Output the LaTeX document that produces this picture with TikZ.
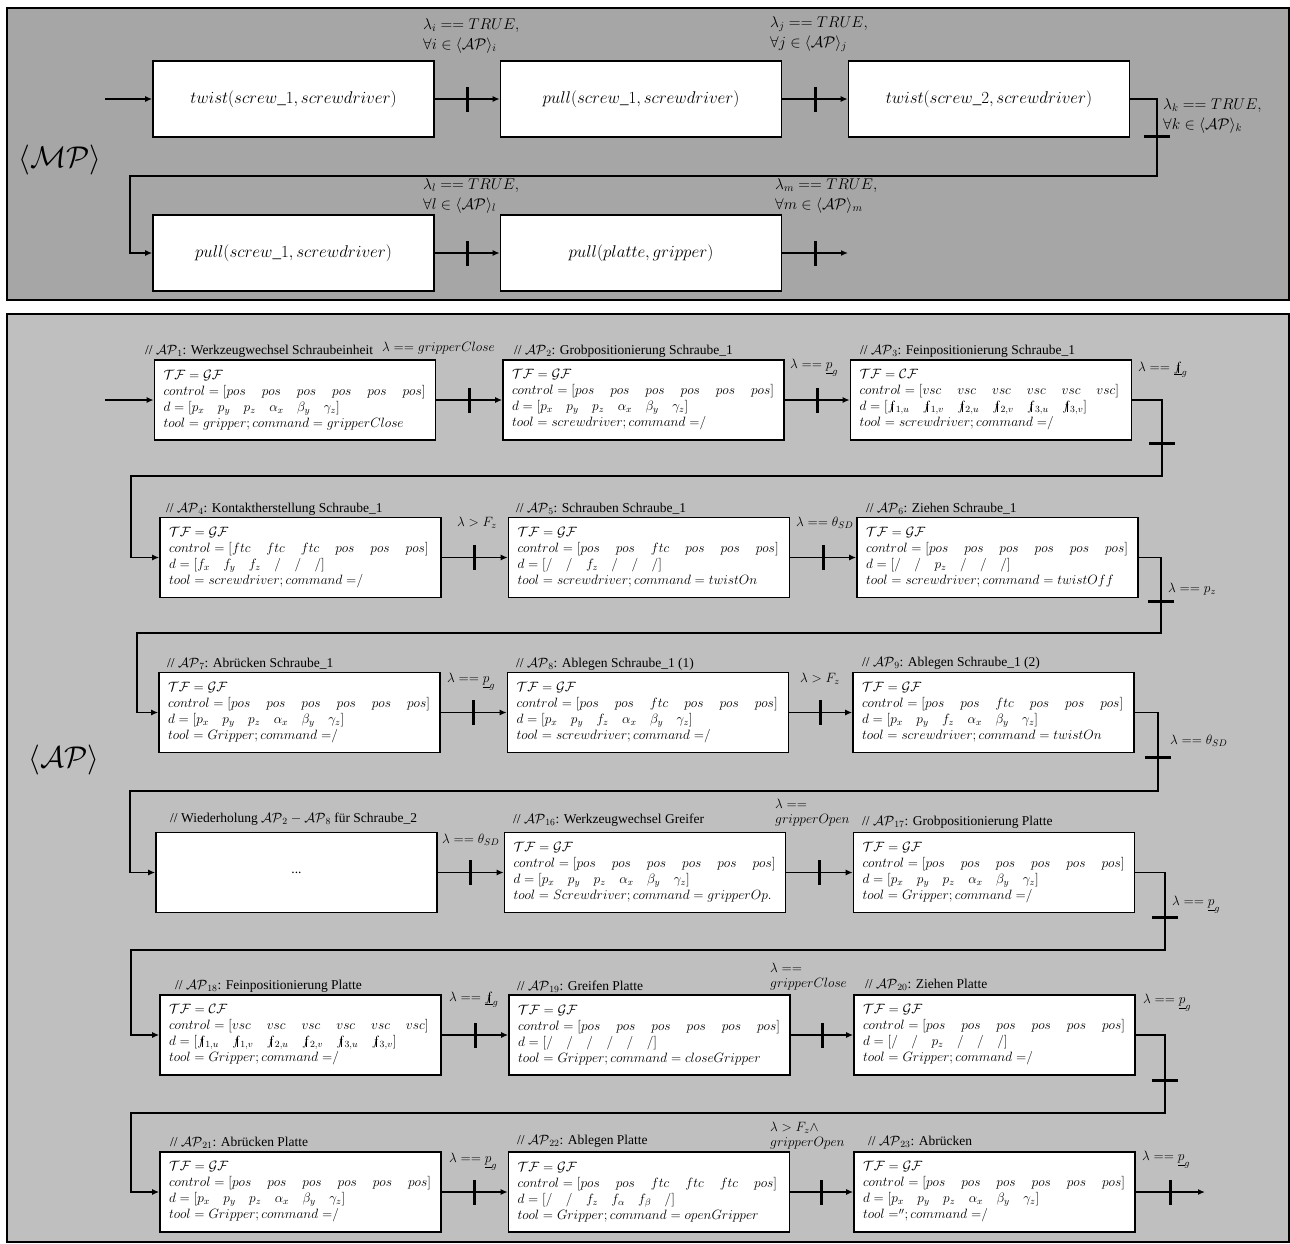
\RequirePackage{fix-cm}
\documentclass[tikz,border=0pt]{standalone}
\usepackage{amsmath,amssymb}
\usepackage{fontspec}
\setmainfont{Liberation Serif}
\usetikzlibrary{arrows.meta}
\newcommand\nf{\mathord{\ooalign{$f$\cr\hidewidth\kern0.12em\rule[-0.15ex]{0.07em}{1.55ex}\hidewidth\cr}}}
\newcommand\cs{\hspace{16pt}}
\newcommand\posrow{pos\cs pos\cs pos\cs pos\cs pos\cs pos}
\newcommand\pvec{p_x\quad p_y\quad p_z\quad \alpha_x\quad \beta_y\quad \gamma_z}
\newcommand\fvec{\nf_{1,u}\quad \nf_{1,v}\quad \nf_{2,u}\quad \nf_{2,v}\quad \nf_{3,u}\quad \nf_{3,v}}
\newcommand\cnone{command\;{=}/}
\newcommand\AP{\mathcal{AP}}
\begin{document}
\begin{tikzpicture}[x=1pt,y=-1pt,
  panel/.style={draw=black, line width=1.6pt},
  mbox/.style={draw, fill=white, line width=1.6pt, minimum width=281pt, minimum height=76pt, inner sep=0pt, font=\fontsize{17}{20}\selectfont},
  apbox/.style={draw, fill=white, line width=1.6pt, text width=263pt, inner xsep=9pt, inner ysep=0pt, minimum height=80pt, align=left, font=\fontsize{13.5}{16}\selectfont},
  ttl/.style={anchor=west, inner sep=0pt, font=\fontsize{13.5}{15}\selectfont},
  lab/.style={anchor=west, inner sep=0pt, align=left, font=\fontsize{13.5}{15}\selectfont},
  tlab/.style={anchor=west, inner sep=0pt, align=left, font=\fontsize{15.5}{20}\selectfont},
  conn/.style={line width=1.6pt, -{Latex[length=7pt,width=6pt]}},
  tickv/.style={fill=black, draw=none, inner sep=0pt, minimum width=3pt, minimum height=25pt},
  tickh/.style={fill=black, draw=none, inner sep=0pt, minimum width=26pt, minimum height=3pt},
  big/.style={inner sep=0pt, font=\fontsize{30}{34}\selectfont}
]
\useasboundingbox (0,0) rectangle (1290,1243);
% panels
\draw[panel, fill=black!35] (7,8) rectangle (1289,300);
\draw[panel, fill=black!25] (7,314) rectangle (1289,1242);

% ---------- MP panel ----------
\node[big] (mp) at (60,160) {$\langle\mathcal{MP}\rangle$};
\node[mbox] (m1) at (293.5,99) {$twist(screw\_1, screwdriver)$};
\node[mbox] (m2) at (641,99) {$pull(screw\_1, screwdriver)$};
\node[mbox] (m3) at (989,99) {$twist(screw\_2, screwdriver)$};
\node[mbox] (m4) at (293.5,253) {$pull(screw\_1, screwdriver)$};
\node[mbox] (m5) at (641,253) {$pull(platte, gripper)$};
\coordinate (min) at (105,99);
\coordinate (mout) at (848,253);
\draw[conn] (min) -- (m1.west);
\draw[conn] (m1.east) -- node[tickv]{} (m2.west);
\draw[conn] (m2.east) -- node[tickv]{} (m3.west);
\draw[conn] (m3.east) -- (1157,99) -- (1157,176) -- (130,176) -- (130,253) -- (m4.west);
\node[tickh] at (1157,136) {};
\draw[conn] (m4.east) -- node[tickv]{} (m5.west);
\draw[conn] (m5.east) -- node[tickv]{} (mout);
\node[tlab] (li) at (423,36) {$\lambda_i == TRUE,$\\$\forall i \in \langle\AP\rangle_i$};
\node[tlab] (lj) at (770,34) {$\lambda_j == TRUE,$\\$\forall j \in \langle\AP\rangle_j$};
\node[tlab] (lk) at (1163,116) {$\lambda_k == TRUE,$\\$\forall k \in \langle\AP\rangle_k$};
\node[tlab] (ll) at (423,196) {$\lambda_l == TRUE,$\\$\forall l \in \langle\AP\rangle_l$};
\node[tlab] (lm) at (775,196) {$\lambda_m == TRUE,$\\$\forall m \in \langle\AP\rangle_m$};

% ---------- AP panel ----------
\node[big] (ap) at (64,760) {$\langle\AP\rangle$};

% row 1
\node[apbox] (a1) at (295,400) {$\mathcal{TF} = \mathcal{GF}$\\$control = [\posrow]$\\$d = [\pvec]$\\$tool = gripper; command = gripperClose$};
\node[apbox] (a2) at (643.5,400) {$\mathcal{TF} = \mathcal{GF}$\\$control = [\posrow]$\\$d = [\pvec]$\\$tool = screwdriver; \cnone$};
\node[apbox] (a3) at (991,400) {$\mathcal{TF} = \mathcal{CF}$\\$control = [vsc\cs vsc\cs vsc\cs vsc\cs vsc\cs vsc]$\\$d = [\fvec]$\\$tool = screwdriver; \cnone$};
\node[ttl] (t1) at (145,351) {// $\AP_1$: Werkzeugwechsel Schraubeinheit};
\node[ttl] (t2) at (514,351) {// $\AP_2$: Grobpositionierung Schraube\_1};
\node[ttl] (t3) at (860,351) {// $\AP_3$: Feinpositionierung Schraube\_1};
\node[lab] (l1) at (382,348) {$\lambda == gripperClose$};
\node[lab] (l2) at (790,368) {$\lambda == \underline{p}_g$};
\node[lab] (l3) at (1138,370) {$\lambda == \underline{\nf}_g$};

% row 2
\node[apbox] (a4) at (300.5,557.5) {$\mathcal{TF} = \mathcal{GF}$\\$control = [ftc\cs ftc\cs ftc\cs pos\cs pos\cs pos]$\\$d = [f_x\quad f_y\quad f_z\quad /\quad /\quad /]$\\$tool = screwdriver; \cnone$};
\node[apbox] (a5) at (649,557.5) {$\mathcal{TF} = \mathcal{GF}$\\$control = [pos\cs pos\cs ftc\cs pos\cs pos\cs pos]$\\$d = [/\quad /\quad f_z\quad /\quad /\quad /]$\\$tool = screwdriver; command = twistOn$};
\node[apbox] (a6) at (997.5,557.5) {$\mathcal{TF} = \mathcal{GF}$\\$control = [\posrow]$\\$d = [/\quad /\quad p_z\quad /\quad /\quad /]$\\$tool = screwdriver; command = twistOff$};
\node[ttl] (t4) at (166,509) {// $\AP_4$: Kontaktherstellung Schraube\_1};
\node[ttl] (t5) at (516,509) {// $\AP_5$: Schrauben Schraube\_1};
\node[ttl] (t6) at (866,509) {// $\AP_6$: Ziehen Schraube\_1};
\node[lab] (l4) at (457,523) {$\lambda > F_z$};
\node[lab] (l5) at (796,523) {$\lambda == \theta_{SD}$};
\node[lab] (l6) at (1168,589) {$\lambda == p_z$};

% row 3
\node[apbox] (a7) at (299.5,712.5) {$\mathcal{TF} = \mathcal{GF}$\\$control = [\posrow]$\\$d = [\pvec]$\\$tool = Gripper; \cnone$};
\node[apbox] (a8) at (648,712.5) {$\mathcal{TF} = \mathcal{GF}$\\$control = [pos\cs pos\cs ftc\cs pos\cs pos\cs pos]$\\$d = [p_x\quad p_y\quad f_z\quad \alpha_x\quad \beta_y\quad \gamma_z]$\\$tool = screwdriver; \cnone$};
\node[apbox] (a9) at (993.5,712.5) {$\mathcal{TF} = \mathcal{GF}$\\$control = [pos\cs pos\cs ftc\cs pos\cs pos\cs pos]$\\$d = [p_x\quad p_y\quad f_z\quad \alpha_x\quad \beta_y\quad \gamma_z]$\\$tool = screwdriver; command = twistOn$};
\node[ttl] (t7) at (167,664) {// $\AP_7$: Abrücken Schraube\_1};
\node[ttl] (t8) at (516,664) {// $\AP_8$: Ablegen Schraube\_1 (1)};
\node[ttl] (t9) at (862,663) {// $\AP_9$: Ablegen Schraube\_1 (2)};
\node[lab] (l7) at (447,682) {$\lambda == \underline{p}_g$};
\node[lab] (l8) at (800,679) {$\lambda > F_z$};
\node[lab] (l9) at (1170,741) {$\lambda == \theta_{SD}$};

% row 4
\node[apbox, align=center] (adots) at (296.5,872.5) {...};
\node[apbox] (a16) at (645,872.5) {$\mathcal{TF} = \mathcal{GF}$\\$control = [\posrow]$\\$d = [\pvec]$\\$tool = Screwdriver; command = gripperOp.$};
\node[apbox] (a17) at (994,872.5) {$\mathcal{TF} = \mathcal{GF}$\\$control = [\posrow]$\\$d = [\pvec]$\\$tool = Gripper; \cnone$};
\node[ttl] (tdots) at (170,819) {// Wiederholung $\AP_2 - \AP_8$ für Schraube\_2};
\node[ttl] (t16) at (513,820) {// $\AP_{16}$: Werkzeugwechsel Greifer};
\node[ttl] (t17) at (862,822) {// $\AP_{17}$: Grobpositionierung Platte};
\node[lab] (l10) at (442,840) {$\lambda == \theta_{SD}$};
\node[lab] (l11) at (775,812.5) {$\lambda ==$\\$gripperOpen$};
\node[lab] (l12) at (1172,905) {$\lambda == \underline{p}_g$};

% row 5
\node[apbox] (a18) at (300.5,1035) {$\mathcal{TF} = \mathcal{CF}$\\$control = [vsc\cs vsc\cs vsc\cs vsc\cs vsc\cs vsc]$\\$d = [\fvec]$\\$tool = Gripper; \cnone$};
\node[apbox] (a19) at (649.5,1035) {$\mathcal{TF} = \mathcal{GF}$\\$control = [\posrow]$\\$d = [/\quad /\quad /\quad /\quad /\quad /]$\\$tool = Gripper; command = closeGripper$};
\node[apbox] (a20) at (994.5,1035) {$\mathcal{TF} = \mathcal{GF}$\\$control = [\posrow]$\\$d = [/\quad /\quad p_z\quad /\quad /\quad /]$\\$tool = Gripper; \cnone$};
\node[ttl] (t18) at (175,986) {// $\AP_{18}$: Feinpositionierung Platte};
\node[ttl] (t19) at (517,987) {// $\AP_{19}$: Greifen Platte};
\node[ttl] (t20) at (865,985) {// $\AP_{20}$: Ziehen Platte};
\node[lab] (l13) at (449,1000) {$\lambda == \underline{\nf}_g$};
\node[lab] (l14) at (770,976.5) {$\lambda ==$\\$gripperClose$};
\node[lab] (l15) at (1143,1003) {$\lambda == \underline{p}_g$};

% row 6
\node[apbox] (a21) at (300.5,1192) {$\mathcal{TF} = \mathcal{GF}$\\$control = [\posrow]$\\$d = [\pvec]$\\$tool = Gripper; \cnone$};
\node[apbox] (a22) at (649,1192) {$\mathcal{TF} = \mathcal{GF}$\\$control = [pos\cs pos\cs ftc\cs ftc\cs ftc\cs pos]$\\$d = [/\quad /\quad f_z\quad f_\alpha\quad f_\beta\quad /]$\\$tool = Gripper; command = openGripper$};
\node[apbox] (a23) at (994.5,1192) {$\mathcal{TF} = \mathcal{GF}$\\$control = [\posrow]$\\$d = [\pvec]$\\$tool\;{=}''; \cnone$};
\node[ttl] (t21) at (170,1143) {// $\AP_{21}$: Abrücken Platte};
\node[ttl] (t22) at (517,1141) {// $\AP_{22}$: Ablegen Platte};
\node[ttl] (t23) at (868,1142) {// $\AP_{23}$: Abrücken};
\node[lab] (l16) at (449,1162) {$\lambda == \underline{p}_g$};
\node[lab] (l17) at (770,1135.5) {$\lambda > F_z \wedge$\\$gripperOpen$};
\node[lab] (l18) at (1142,1160) {$\lambda == \underline{p}_g$};

% ---------- AP connectors ----------
\coordinate (ain) at (105,400);
\coordinate (aout) at (1205,1192);
\draw[conn] (ain) -- (a1.west);
\draw[conn] (a1.east) -- node[tickv]{} (a2.west);
\draw[conn] (a2.east) -- node[tickv]{} (a3.west);
\draw[conn] (a3.east) -- (1162,400) -- (1162,476) -- (131,476) -- (131,557.5) -- (a4.west);
\node[tickh] at (1162,443) {};
\draw[conn] (a4.east) -- node[tickv]{} (a5.west);
\draw[conn] (a5.east) -- node[tickv]{} (a6.west);
\draw[conn] (a6.east) -- (1161,557.5) -- (1161,633) -- (137,633) -- (137,712.5) -- (a7.west);
\node[tickh] at (1161,601) {};
\draw[conn] (a7.east) -- node[tickv]{} (a8.west);
\draw[conn] (a8.east) -- node[tickv]{} (a9.west);
\draw[conn] (a9.east) -- (1158,712.5) -- (1158,791) -- (130,791) -- (130,872.5) -- (adots.west);
\node[tickh] at (1158,757) {};
\draw[conn] (adots.east) -- node[tickv]{} (a16.west);
\draw[conn] (a16.east) -- node[tickv]{} (a17.west);
\draw[conn] (a17.east) -- (1165,872.5) -- (1165,950) -- (131,950) -- (131,1035) -- (a18.west);
\node[tickh] at (1165,917) {};
\draw[conn] (a18.east) -- node[tickv]{} (a19.west);
\draw[conn] (a19.east) -- node[tickv]{} (a20.west);
\draw[conn] (a20.east) -- (1165,1035) -- (1165,1113) -- (131,1113) -- (131,1192) -- (a21.west);
\node[tickh] at (1165,1080) {};
\draw[conn] (a21.east) -- node[tickv]{} (a22.west);
\draw[conn] (a22.east) -- node[tickv]{} (a23.west);
\draw[conn] (a23.east) -- node[tickv]{} (aout);
\end{tikzpicture}
\end{document}
